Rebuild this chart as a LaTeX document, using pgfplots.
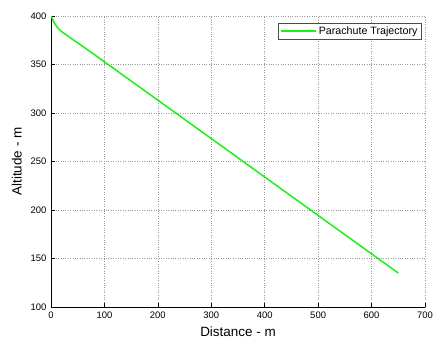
\documentclass[border=0pt]{standalone}
\usepackage{pgfplots}
\pgfplotsset{compat=1.18}
\usepackage{fontspec}
\setmainfont{Liberation Sans}
\begin{document}
\begin{tikzpicture}[x=1bp,y=1bp]
\useasboundingbox (-51bp,-40bp) rectangle (392bp,307bp);
\begin{axis}[
  scale only axis,
  width=374bp, height=291bp,
  xmin=0, xmax=700, ymin=100, ymax=400,
  xtick={0,100,...,700}, ytick={100,150,...,400},
  axis x line=bottom, axis y line=left,
  axis line style={-, black, line width=0.8pt},
  tick align=inside,
  major tick length=4bp,
  tick style={black, line width=0.6pt},
  grid=major,
  grid style={dotted, gray!80, line width=0.6pt},
  /pgf/number format/assume math mode=true,
  ticklabel style={font=\fontsize{9.5}{11}\selectfont},
  xticklabel style={yshift=-1.5bp},
  yticklabel style={xshift=-1bp},
  xlabel={Distance - m}, ylabel={Altitude - m},
  label style={font=\fontsize{13.5}{15}\selectfont},
  xlabel style={yshift=-1bp},
  ylabel style={yshift=2bp},
  legend style={at={(rel axis cs:0.99,0.976)}, anchor=north east,
    draw=black!70, line width=0.7pt, font=\fontsize{10.7}{12}\selectfont,
    inner sep=1.5bp, row sep=0pt},
  legend cell align=left,
  legend image code/.code={\draw[#1, line width=2pt] (0bp,0bp) -- (35bp,0bp);},
]
\addplot[color={rgb,1:red,0.1;green,0.95;blue,0.1}, line width=1.5pt] coordinates {
(0,400) (1,399) (3,396.5) (6,393) (9,390.5) (13,387.5) (18,384.8) (24,382.2) (30,380) (40,376) (60,368.5) (107,350) (200,313.2) (300,273.6) (400,234) (500,194.4) (600,154.8) (650,135)
};
\addlegendentry{Parachute Trajectory}
\end{axis}
\end{tikzpicture}
\end{document}
